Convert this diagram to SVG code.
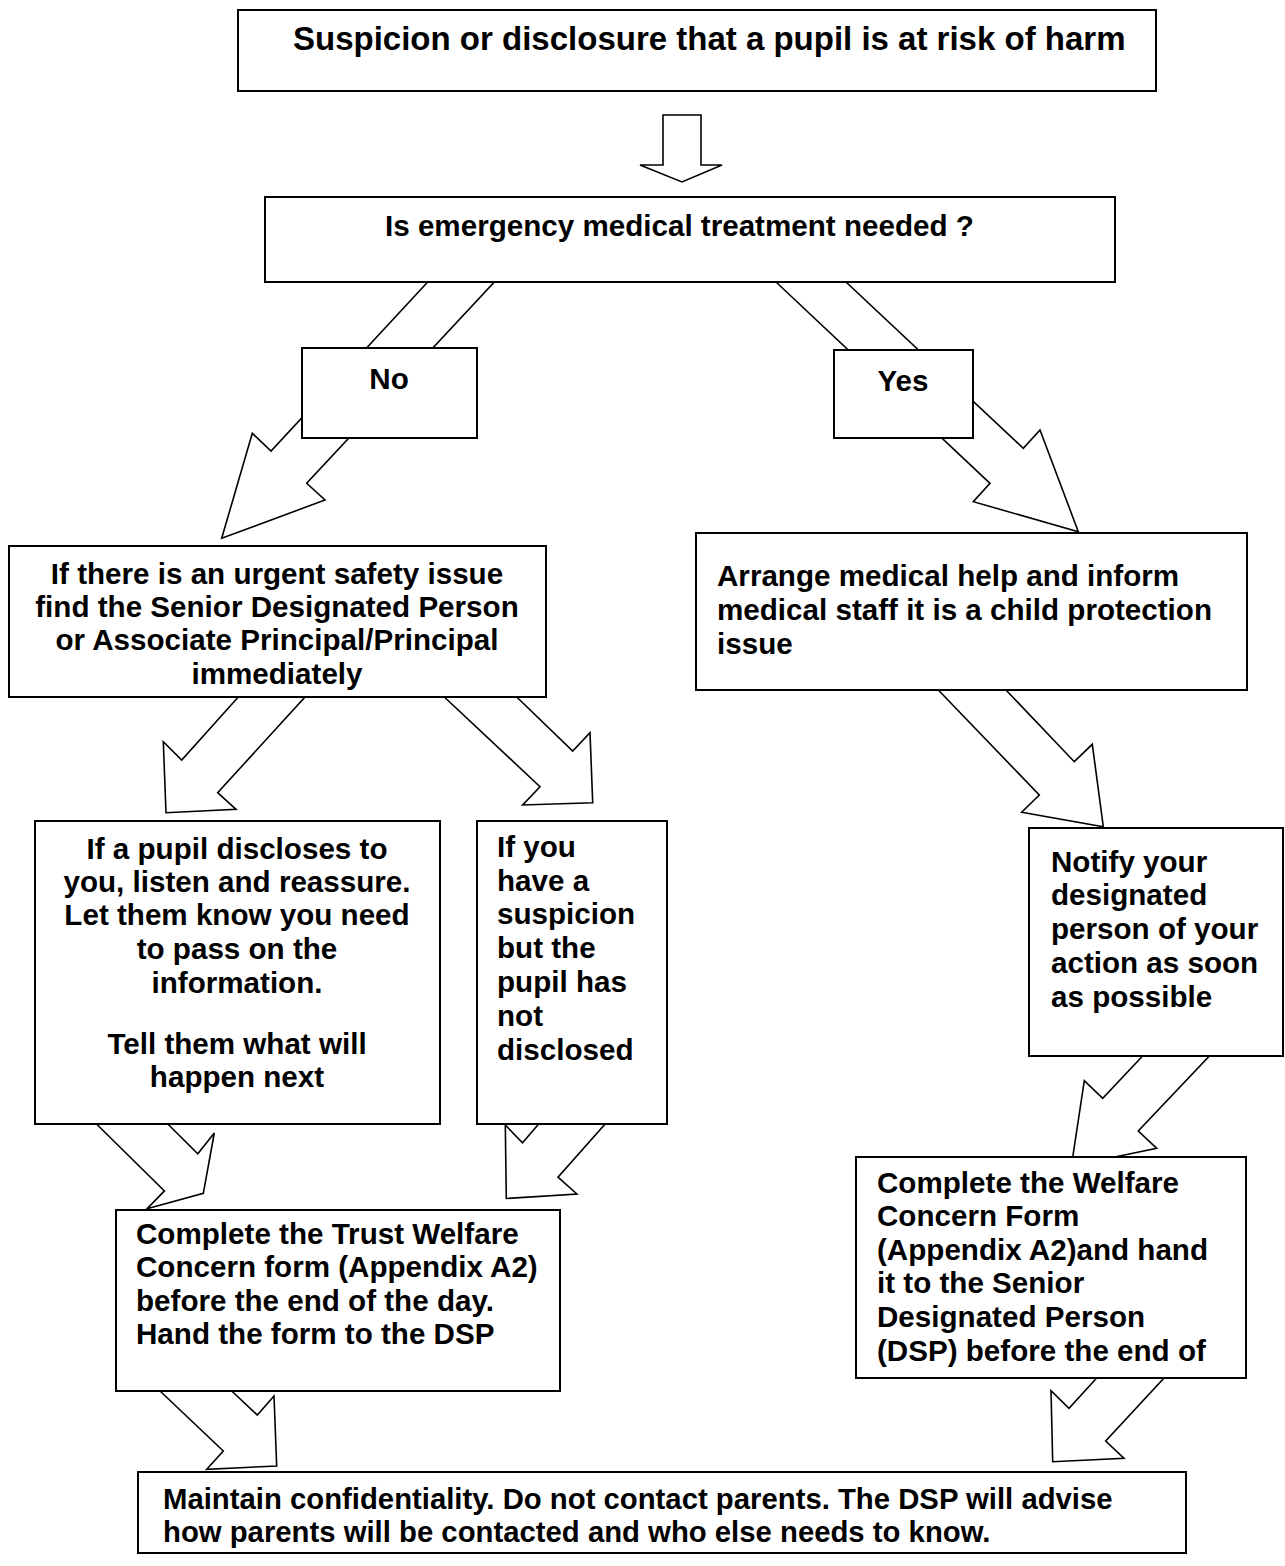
<svg xmlns="http://www.w3.org/2000/svg" width="1285" height="1566" viewBox="0 0 1285 1566">
<style>
.box{fill:#fff;stroke:#000;stroke-width:2}
.arr{fill:#fff;stroke:#000;stroke-width:1.6;stroke-linejoin:miter}
text{font-family:"Liberation Sans",Arial,sans-serif;font-weight:bold;font-size:29.6px;fill:#000}
.c{text-anchor:middle}
.t{font-size:33px}
.s{font-size:29.3px}
</style>
<rect width="1285" height="1566" fill="#fff"/>
<g id="connectors">
<polygon class="arr" points="663,115 701,115 701,165 722,165 682,182 640,165 663,165"/>
<polygon class="arr" points="427.7,282 271,451 252.3,433.3 221.7,538.3 325,500 306.7,483.3 494.3,282"/>
<polygon class="arr" points="776,282 990,483.3 973.3,501.7 1078.3,531.7 1040,430 1023.3,448.3 846,282"/>
<polygon class="arr" points="238.3,697 181.7,760 163.3,741.7 166,812.7 236,809.3 217.7,792.7 305,697"/>
<polygon class="arr" points="444.3,697 540,786.7 522.7,805 592.7,802.7 590,732.7 572.7,751 516.7,697"/>
<polygon class="arr" points="938.3,690 1039.3,795 1021.7,812.3 1103.3,826.7 1092.3,744.3 1074.3,761.7 1006,690"/>
<polygon class="arr" points="96.5,1124 164.4,1190.9 147.1,1208.8 203.3,1193.3 214.3,1133 197.8,1153.7 167.8,1124"/>
<polygon class="arr" points="538.7,1124 522.5,1142.7 505.3,1125 506.3,1198.5 576.9,1194 558,1177.1 605.1,1124"/>
<polygon class="arr" points="1142.6,1056 1102.7,1098.3 1084.3,1080.7 1071.4,1166 1156.7,1148.3 1138.3,1131 1209.3,1056"/>
<polygon class="arr" points="160,1391 223.3,1451 206.7,1469.3 276.7,1466 274,1396 257.3,1415 231.7,1391"/>
<polygon class="arr" points="1096.7,1378 1069,1408.3 1051,1390.7 1052.7,1461.7 1124,1458.3 1105.7,1441 1164,1378"/>
</g>
<g id="n-start">
<rect class="box" x="238" y="10" width="918" height="81"/>
<text class="t" x="293" y="50">Suspicion or disclosure that a pupil is at risk of harm</text>
</g>
<g id="n-emergency">
<rect class="box" x="265" y="197" width="850" height="85"/>
<text x="385" y="236">Is emergency medical treatment needed ?</text>
</g>
<g id="n-no">
<rect class="box" x="302" y="348" width="175" height="90"/>
<text class="c" x="389" y="389">No</text>
</g>
<g id="n-yes">
<rect class="box" x="834" y="350" width="139" height="88"/>
<text class="c" x="903" y="391">Yes</text>
</g>
<g id="n-urgent">
<rect class="box" x="9" y="546" width="537" height="151"/>
<text class="c" x="277" y="584">If there is an urgent safety issue</text>
<text class="c" x="277" y="617">find the Senior Designated Person</text>
<text class="c" x="277" y="650">or Associate Principal/Principal</text>
<text class="c" x="277" y="684">immediately</text>
</g>
<g id="n-medical">
<rect class="box" x="696" y="533" width="551" height="157"/>
<text x="717" y="586">Arrange medical help and inform</text>
<text x="717" y="620">medical staff it is a child protection</text>
<text x="717" y="654">issue</text>
</g>
<g id="n-discloses">
<rect class="box" x="35" y="821" width="405" height="303"/>
<text class="c" x="237" y="859">If a pupil discloses to</text>
<text class="c" x="237" y="892">you, listen and reassure.</text>
<text class="c" x="237" y="925">Let them know you need</text>
<text class="c" x="237" y="959">to pass on the</text>
<text class="c" x="237" y="993">information.</text>
<text class="c" x="237" y="1054">Tell them what will</text>
<text class="c" x="237" y="1087">happen next</text>
</g>
<g id="n-suspicion">
<rect class="box" x="477" y="821" width="190" height="303"/>
<text x="497" y="857">If you</text>
<text x="497" y="891">have a</text>
<text x="497" y="924">suspicion</text>
<text x="497" y="958">but the</text>
<text x="497" y="992">pupil has</text>
<text x="497" y="1026">not</text>
<text x="497" y="1060">disclosed</text>
</g>
<g id="n-notify">
<rect class="box" x="1029" y="828" width="254" height="228"/>
<text x="1051" y="872">Notify your</text>
<text x="1051" y="905">designated</text>
<text x="1051" y="939">person of your</text>
<text x="1051" y="973">action as soon</text>
<text x="1051" y="1007">as possible</text>
</g>
<g id="n-trust-form">
<rect class="box" x="116" y="1210" width="444" height="181"/>
<text x="136" y="1244">Complete the Trust Welfare</text>
<text x="136" y="1277">Concern form (Appendix A2)</text>
<text x="136" y="1311">before the end of the day.</text>
<text x="136" y="1344">Hand the form to the DSP</text>
</g>
<g id="n-welfare-form">
<rect class="box" x="856" y="1157" width="390" height="221"/>
<text x="877" y="1193">Complete the Welfare</text>
<text x="877" y="1226">Concern Form</text>
<text x="877" y="1260">(Appendix A2)and hand</text>
<text x="877" y="1293">it to the Senior</text>
<text x="877" y="1327">Designated Person</text>
<text x="877" y="1361">(DSP) before the end of</text>
</g>
<g id="n-confidentiality">
<rect class="box" x="138" y="1472" width="1048" height="81"/>
<text class="s" x="163" y="1509">Maintain confidentiality. Do not contact parents. The DSP will advise</text>
<text class="s" x="163" y="1542">how parents will be contacted and who else needs to know.</text>
</g>
</svg>
